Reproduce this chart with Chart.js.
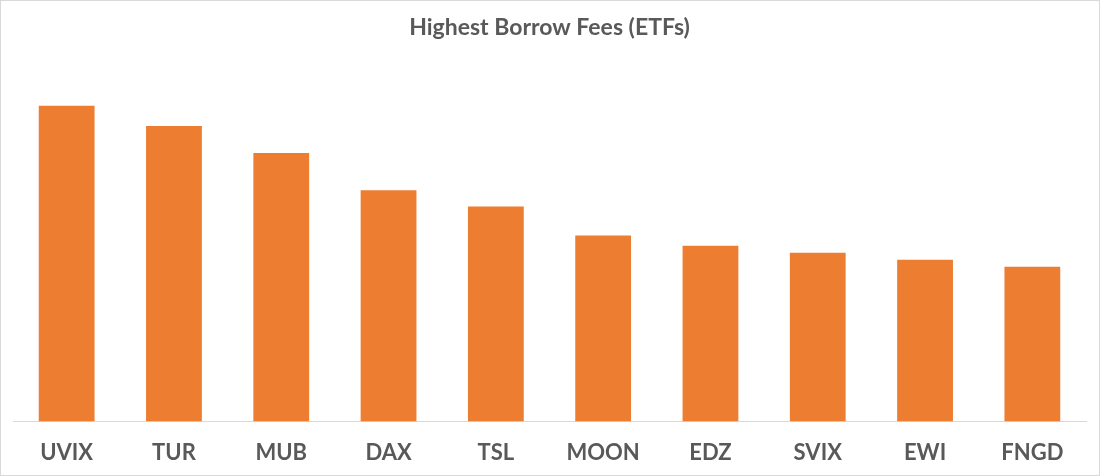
<!DOCTYPE html>
<html>
<head>
<meta charset="utf-8">
<script src="https://cdn.jsdelivr.net/npm/chart.js@4"></script>
<style>
  html, body { margin: 0; padding: 0; background: #fff; }
  #wrap { width: 1100px; height: 476px; }
</style>
</head>
<body>
<div id="wrap"><canvas id="myChart"></canvas></div>
<script>
const tickers = ['UVIX', 'TUR', 'MUB', 'DAX', 'TSL', 'MOON', 'EDZ', 'SVIX', 'EWI', 'FNGD'];
const borrowFees = [31.4, 29.4, 26.7, 23.0, 21.4, 18.5, 17.5, 16.8, 16.1, 15.4];

// frame around the whole picture
const framePlugin = {
  id: 'frame',
  beforeDraw(chart) {
    const ctx = chart.ctx;
    ctx.save();
    ctx.fillStyle = '#fff';
    ctx.fillRect(0, 0, chart.width, chart.height);
    ctx.strokeStyle = '#d9d9d9';
    ctx.lineWidth = 1;
    ctx.strokeRect(0.5, 0.5, chart.width - 1, chart.height - 1);
    ctx.restore();
  }
};

const data = {
  labels: tickers,
  datasets: [{
    label: 'Borrow Fee',
    data: borrowFees,
    backgroundColor: '#ed7d31',
    borderWidth: 0,
    barPercentage: 0.52,
    categoryPercentage: 1
  }]
};

const config = {
  type: 'bar',
  data,
  options: {
    responsive: true,
    maintainAspectRatio: false,
    animation: false,
    layout: { padding: { left: 13, right: 14, top: 0, bottom: 0 } },
    plugins: {
      legend: { display: false },
      tooltip: { enabled: false },
      title: {
        display: true,
        text: 'Highest Borrow Fees (ETFs)',
        color: '#595959',
        font: { family: 'Lato', size: 23, weight: 'bold' },
        padding: { top: 14, bottom: 18 }
      }
    },
    scales: {
      x: {
        grid: { display: false },
        border: { display: true, color: '#d9d9d9', width: 1 },
        ticks: {
          color: '#595959',
          padding: 10,
          font: { family: 'Lato', size: 22, weight: 'bold' }
        }
      },
      y: {
        display: false,
        min: 0,
        max: 36
      }
    }
  },
  plugins: [framePlugin]
};

const myChart = new Chart(document.getElementById('myChart'), config);
</script>
</body>
</html>
